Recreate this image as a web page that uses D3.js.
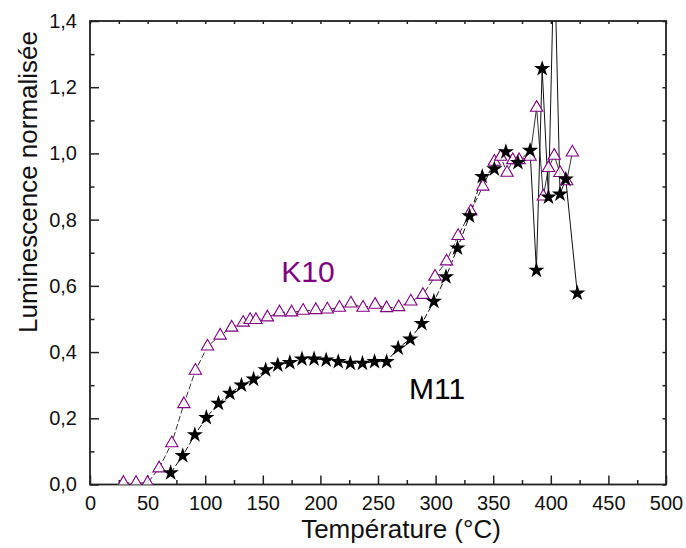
<!DOCTYPE html>
<html>
<head>
<meta charset="utf-8">
<script src="https://cdn.jsdelivr.net/npm/d3@7"></script>
<style>
  html, body { margin: 0; padding: 0; background: #fff; }
  svg { display: block; font-family: "Liberation Sans", Arial, sans-serif; }
</style>
</head>
<body>
<svg id="chart" width="686" height="548"></svg>
<script>
// ---- data ----
const k10Temp = [29, 40, 50, 60, 71, 81.5, 91.5, 102, 113, 123, 133, 139, 144, 154, 164.5, 175, 185, 196, 206, 216.5, 226.5, 237, 247.5, 257.5, 268, 278.5, 289, 299.5, 309.5, 319.5, 330.5, 341, 351, 356.5, 362, 367, 372.5, 382, 387.7, 393.5, 398, 403, 408, 413.8, 418.7];
const k10Lum  = [0.005, 0.005, 0.005, 0.049, 0.125, 0.243, 0.344, 0.417, 0.45, 0.474, 0.489, 0.497, 0.497, 0.505, 0.52, 0.52, 0.525, 0.527, 0.529, 0.534, 0.547, 0.534, 0.543, 0.533, 0.536, 0.553, 0.573, 0.628, 0.674, 0.751, 0.825, 0.90, 0.975, 0.99, 0.942, 0.98, 0.98, 0.99, 1.138, 0.87, 0.956, 0.993, 0.941, 0.916, 1.003];
const m11Temp = [70, 80.5, 91, 101, 111.5, 121.5, 131.5, 142, 152.5, 163, 173.5, 184, 194.5, 205, 215.5, 226, 236.5, 247, 257.5, 267.5, 278, 288, 298.5, 309, 319, 329.5, 340.5, 351, 361, 371.5, 382, 387.5, 392.5, 398, 403, 408, 413, 423];
const m11Lum  = [0.035, 0.087, 0.15, 0.202, 0.245, 0.275, 0.30, 0.318, 0.346, 0.361, 0.368, 0.379, 0.379, 0.376, 0.371, 0.366, 0.366, 0.371, 0.371, 0.412, 0.439, 0.486, 0.553, 0.627, 0.714, 0.811, 0.93, 0.953, 1.005, 0.972, 1.009, 0.647, 1.256, 0.868, 1.62, 0.877, 0.922, 0.578];
const xTicks = [0, 50, 100, 150, 200, 250, 300, 350, 400, 450, 500];
const yTicks = [0, 0.2, 0.4, 0.6, 0.8, 1.0, 1.2, 1.4];
const seriesLabels = ["K10", "M11"];
const xTitle = "Température (°C)";
const yTitle = "Luminescence normalisée";

// ---- layout ----
const svg = d3.select("#chart");
const L = 90, R = 666, T = 21, B = 484.5;
const x = d3.scaleLinear().domain([0, 500]).range([L, R]);
const y = d3.scaleLinear().domain([0, 1.4]).range([B, T]);
const fmt = d => d3.format(".1f")(d).replace(".", ",");
const purple = "#800080";
const axisColor = "#222";

svg.append("defs").append("clipPath").attr("id", "clip")
  .append("rect").attr("x", L).attr("y", T).attr("width", R - L).attr("height", B - T);

// ---- axes ----
function styleAxis(g) {
  g.select(".domain").remove();
  g.selectAll("line").attr("stroke", axisColor).attr("stroke-width", 1.5);
  g.selectAll("text").attr("fill", "#111").style("font-size", "20px");
}
const xMinor = d3.range(0, 501, 25);
const yMinor = d3.range(0, 1.41, 0.1);

// bottom
svg.append("g").attr("transform", `translate(0,${B})`)
  .call(d3.axisBottom(x).tickValues(xMinor.filter((d, i) => i % 2 === 1)).tickSize(-4.5).tickFormat(""))
  .call(styleAxis);
svg.append("g").attr("transform", `translate(0,${B})`)
  .call(d3.axisBottom(x).tickValues(xTicks).tickSize(-9).tickFormat(d3.format("d")))
  .call(styleAxis)
  .call(g => g.selectAll("text").attr("dy", "0.71em").attr("y", 11));
// left
svg.append("g").attr("transform", `translate(${L},0)`)
  .call(d3.axisLeft(y).tickValues(yMinor.filter((d, i) => i % 2 === 1)).tickSize(-4.5).tickFormat(""))
  .call(styleAxis);
svg.append("g").attr("transform", `translate(${L},0)`)
  .call(d3.axisLeft(y).tickValues(yTicks).tickSize(-9).tickFormat(fmt))
  .call(styleAxis)
  .call(g => g.selectAll("text").attr("x", -13));
// top
svg.append("g").attr("transform", `translate(0,${T})`)
  .call(d3.axisTop(x).tickValues(xMinor).tickSize(-3).tickFormat(""))
  .call(styleAxis);
// right
svg.append("g").attr("transform", `translate(${R},0)`)
  .call(d3.axisRight(y).tickValues(yMinor).tickSize(-3.5).tickFormat(""))
  .call(styleAxis);

// frame
svg.append("rect").attr("x", L).attr("y", T).attr("width", R - L).attr("height", B - T)
  .attr("fill", "none").attr("stroke", axisColor).attr("stroke-width", 1.8);

// ---- series ----
const k10 = k10Temp.map((t, i) => ({ t, v: k10Lum[i] }));
const m11 = m11Temp.map((t, i) => ({ t, v: m11Lum[i] }));
const line = d3.line().x(d => x(d.t)).y(d => y(d.v));
const plot = svg.append("g").attr("clip-path", "url(#clip)");

function drawLine(data, color) {
  const cut = data.findIndex(d => d.t > 384);
  plot.append("path").datum(data.slice(0, cut))
    .attr("d", line).attr("fill", "none").attr("stroke", color)
    .attr("stroke-width", 1).attr("stroke-dasharray", "6,2.5");
  plot.append("path").datum(data.slice(cut - 1))
    .attr("d", line).attr("fill", "none").attr("stroke", color)
    .attr("stroke-width", 1);
}
drawLine(k10, "#333");
drawLine(m11, "#111");

plot.selectAll(".tri").data(k10).join("path").attr("class", "tri")
  .attr("d", d3.symbol(d3.symbolTriangle, 66))
  .attr("transform", d => `translate(${x(d.t)},${y(d.v)})`)
  .attr("fill", "white").attr("fill-opacity", 0.85).attr("stroke", purple).attr("stroke-width", 1.1);

plot.selectAll(".star").data(m11).join("path").attr("class", "star")
  .attr("d", d3.symbol(d3.symbolStar, 82))
  .attr("transform", d => `translate(${x(d.t)},${y(d.v)})`)
  .attr("fill", "#000");

// ---- labels ----
svg.append("text").attr("x", x(166)).attr("y", y(0.612))
  .attr("fill", purple).style("font-size", "30px").text(seriesLabels[0]);
svg.append("text").attr("x", x(277)).attr("y", y(0.257))
  .attr("fill", "#000").style("font-size", "30px").text(seriesLabels[1]);

svg.append("text").attr("x", 401).attr("y", 538).attr("text-anchor", "middle")
  .attr("fill", "#111").style("font-size", "26px").text(xTitle);
svg.append("text").attr("transform", "translate(37,182) rotate(-90)").attr("text-anchor", "middle")
  .attr("fill", "#111").style("font-size", "26px").text(yTitle);
</script>
</body>
</html>
